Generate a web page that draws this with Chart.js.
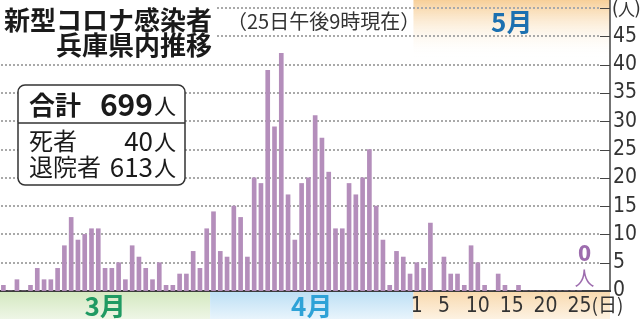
<!DOCTYPE html>
<html>
<head>
<meta charset="utf-8">
<script src="https://cdn.jsdelivr.net/npm/chart.js@4.4.1/dist/chart.umd.min.js"></script>
<style>
  html, body { margin: 0; padding: 0; background: #fff; }
  #wrap { width: 640px; height: 319px; position: relative; }
</style>
</head>
<body>
<div id="wrap"><canvas id="casesChart"></canvas></div>
<script>
// daily new cases, Hyogo (Mar 1 - May 25)
const marchCases = [1,0,2,0,1,4,2,2,4,8,13,9,10,11,11,4,4,5,2,8,6,4,2,5,1,1,3,3,7,4,11];
const aprilCases = [14,7,6,15,13,6,20,19,39,29,42,17,9,19,20,31,27,21,11,11,19,17,20,25,15,9,1,7,6,3];
const mayCases = [5,4,12,0,6,3,3,1,8,5,1,0,3,1,0,1,0,0,0,0,0,0,0,0,0];
const mayAxisDays = 29;           // axis runs a few days past the last report
const mayTickDays = [1, 5, 10, 15, 20, 25];
const yTicks = [0, 5, 10, 15, 20, 25, 30, 35, 40, 45, 50];

const labels = [];
for (let d = 1; d <= marchCases.length; d++) labels.push('3/' + d);
for (let d = 1; d <= aprilCases.length; d++) labels.push('4/' + d);
for (let d = 1; d <= mayAxisDays; d++) labels.push('5/' + d);
const cases = marchCases.concat(aprilCases, mayCases);

const numFont = "'Liberation Sans Narrow', 'DejaVu Sans Condensed', sans-serif";
const jpFont = "'Noto Sans CJK JP', sans-serif";

const decor = {
    id: 'decor',
    beforeDraw(chart) {
        const ctx = chart.ctx, a = chart.chartArea, x = chart.scales.x;
        const step = x.getPixelForValue(1) - x.getPixelForValue(0);
        const aprStart = x.getPixelForValue(marchCases.length) - step / 2;
        const mayStart = x.getPixelForValue(marchCases.length + aprilCases.length) - step / 2;
        const h = chart.height;
        ctx.save();
        // 5月 banner at the top
        let g = ctx.createLinearGradient(0, 0, 0, 58);
        g.addColorStop(0, '#f7cf98');
        g.addColorStop(1, 'rgba(255,255,255,0)');
        ctx.fillStyle = g;
        ctx.fillRect(mayStart, 0, a.right - mayStart, 58);
        // month bands under the axis
        const bands = [
            [0, aprStart, '#d3e8bf', '#eef6e6'],
            [aprStart, mayStart, '#bcdff4', '#e8f4fc'],
            [mayStart, a.right, '#f8d9ae', '#fdf2e2']
        ];
        bands.forEach(b => {
            g = ctx.createLinearGradient(0, a.bottom, 0, h);
            g.addColorStop(0, b[2]);
            g.addColorStop(1, b[3]);
            ctx.fillStyle = g;
            ctx.fillRect(b[0], a.bottom, b[1] - b[0], h - a.bottom);
        });
        ctx.restore();
    },
    beforeDatasetsDraw(chart) {
        // dotted horizontal guides at every y tick
        const ctx = chart.ctx, a = chart.chartArea, y = chart.scales.y;
        ctx.save();
        ctx.fillStyle = '#a9a9a9';
        yTicks.forEach(v => {
            if (v === 0) return;
            const py = Math.round(y.getPixelForValue(v)) - 1;
            for (let px = 1; px < a.right - 10; px += 4) {
                ctx.fillRect(px, py, 2, 2);
            }
        });
        ctx.restore();
    },
    afterDraw(chart) {
        const ctx = chart.ctx, a = chart.chartArea, x = chart.scales.x, y = chart.scales.y;
        const step = x.getPixelForValue(1) - x.getPixelForValue(0);
        const aprStart = x.getPixelForValue(marchCases.length) - step / 2;
        const mayStart = x.getPixelForValue(marchCases.length + aprilCases.length) - step / 2;
        ctx.save();

        // right axis line + tick marks
        ctx.strokeStyle = '#444';
        ctx.lineWidth = 1.5;
        ctx.beginPath();
        ctx.moveTo(a.right, 0);
        ctx.lineTo(a.right, a.bottom);
        ctx.stroke();
        ctx.lineWidth = 1;
        yTicks.forEach(v => {
            if (v === 0) return;
            const py = Math.round(y.getPixelForValue(v)) + 0.5;
            ctx.beginPath();
            ctx.moveTo(a.right - 10, py);
            ctx.lineTo(a.right, py);
            ctx.stroke();
        });

        // unit of the value axis
        ctx.fillStyle = '#333';
        ctx.textBaseline = 'middle';
        ctx.textAlign = 'left';
        ctx.font = '19px ' + numFont;
        ctx.fillText('(', a.right + 2, 10);
        ctx.fillText(')', a.right + 24, 10);
        ctx.font = '17px ' + jpFont;
        ctx.fillText('人', a.right + 8, 10);

        // title
        ctx.fillStyle = '#fff';
        ctx.fillRect(0, 0, 216, 58);
        ctx.fillStyle = '#1a1a1a';
        ctx.textAlign = 'right';
        ctx.font = 'bold 26px ' + jpFont;
        ctx.fillText('新型コロナ感染者', 212, 20);
        ctx.fillText('兵庫県内推移', 212, 45);
        ctx.textAlign = 'left';
        ctx.fillStyle = '#333';
        ctx.font = '20px ' + jpFont;
        ctx.fillText('（25日午後9時現在）', 227, 21);

        // totals box
        ctx.fillStyle = '#fff';
        ctx.strokeStyle = '#333';
        ctx.lineWidth = 1.5;
        ctx.beginPath();
        ctx.roundRect(18, 85, 167, 100, 7);
        ctx.fill();
        ctx.stroke();
        ctx.beginPath();
        ctx.moveTo(18, 123);
        ctx.lineTo(185, 123);
        ctx.stroke();
        ctx.fillStyle = '#1a1a1a';
        ctx.textAlign = 'left';
        ctx.font = 'bold 26px ' + jpFont;
        ctx.fillText('合計', 29, 105);
        ctx.font = 'normal 24px ' + jpFont;
        ctx.fillText('死者', 29, 141);
        ctx.fillText('退院者', 29, 167);
        ctx.textAlign = 'right';
        ctx.font = '22px ' + jpFont;
        ctx.fillText('人', 176, 106);
        ctx.fillText('人', 176, 142);
        ctx.fillText('人', 176, 168);
        ctx.font = 'bold 30px ' + jpFont;
        ctx.fillText('699', 153, 105);
        ctx.font = 'normal 26px ' + jpFont;
        ctx.fillText('40', 153, 141);
        ctx.fillText('613', 153, 167);

        // month names
        ctx.textAlign = 'center';
        ctx.font = 'bold 26px ' + jpFont;
        ctx.fillStyle = '#1f9a62';
        ctx.fillText('3月', aprStart / 2, 306);
        ctx.fillStyle = '#2ea2d7';
        ctx.fillText('4月', (aprStart + mayStart) / 2, 306);
        ctx.fillStyle = '#1c70b0';
        ctx.fillText('5月', (mayStart + a.right) / 2, 22);

        // zero marker on the last reported day
        const lastX = x.getPixelForValue(cases.length - 1) + 5;
        ctx.fillStyle = '#9d6cae';
        ctx.font = 'bold 21px ' + numFont;
        ctx.fillText('0', lastX, 256);
        ctx.font = '20px ' + jpFont;
        ctx.fillText('人', lastX, 278);

        // unit after the last day tick
        const lastTick = x.getPixelForValue(marchCases.length + aprilCases.length + 24);
        ctx.font = '21px ' + numFont;
        ctx.fillStyle = '#333';
        ctx.textAlign = 'left';
        const w25 = ctx.measureText('25').width;
        ctx.font = '19px ' + jpFont;
        ctx.fillText('(日)', lastTick + w25 / 2, 305);
        ctx.restore();
    }
};

const ctx = document.getElementById('casesChart').getContext('2d');
const casesChart = new Chart(ctx, {
    type: 'bar',
    data: {
        labels: labels,
        datasets: [{
            data: cases,
            backgroundColor: '#b48ebb',
            barThickness: 4,
        }]
    },
    options: {
        responsive: true,
        maintainAspectRatio: false,
        animation: false,
        layout: { padding: { top: 8, left: 0, right: 0, bottom: 0 } },
        plugins: {
            legend: { display: false },
            tooltip: { enabled: false },
        },
        scales: {
            x: {
                grid: { display: false, drawTicks: false },
                border: { color: '#3d3d3d', width: 2 },
                ticks: {
                    autoSkip: false,
                    maxRotation: 0,
                    minRotation: 0,
                    padding: 3,
                    color: '#333',
                    font: { family: numFont, size: 21 },
                    callback: function (v, i) {
                        const parts = labels[i].split('/');
                        if (parts[0] === '5' && mayTickDays.includes(+parts[1])) return parts[1];
                        return '';
                    }
                },
                afterFit: function (s) { s.height = 28; s.paddingLeft = 0; s.paddingRight = 0; }
            },
            y: {
                position: 'right',
                min: 0,
                max: 50,
                ticks: {
                    stepSize: 5,
                    padding: 3,
                    color: '#333',
                    font: { family: numFont, size: 21 },
                    callback: function (v) { return v === 50 ? '' : v; }
                },
                grid: { display: false, drawTicks: false },
                border: { display: false },
                afterFit: function (s) { s.width = 30; s.paddingTop = 0; s.paddingBottom = 0; }
            }
        }
    },
    plugins: [decor]
});
</script>
</body>
</html>
